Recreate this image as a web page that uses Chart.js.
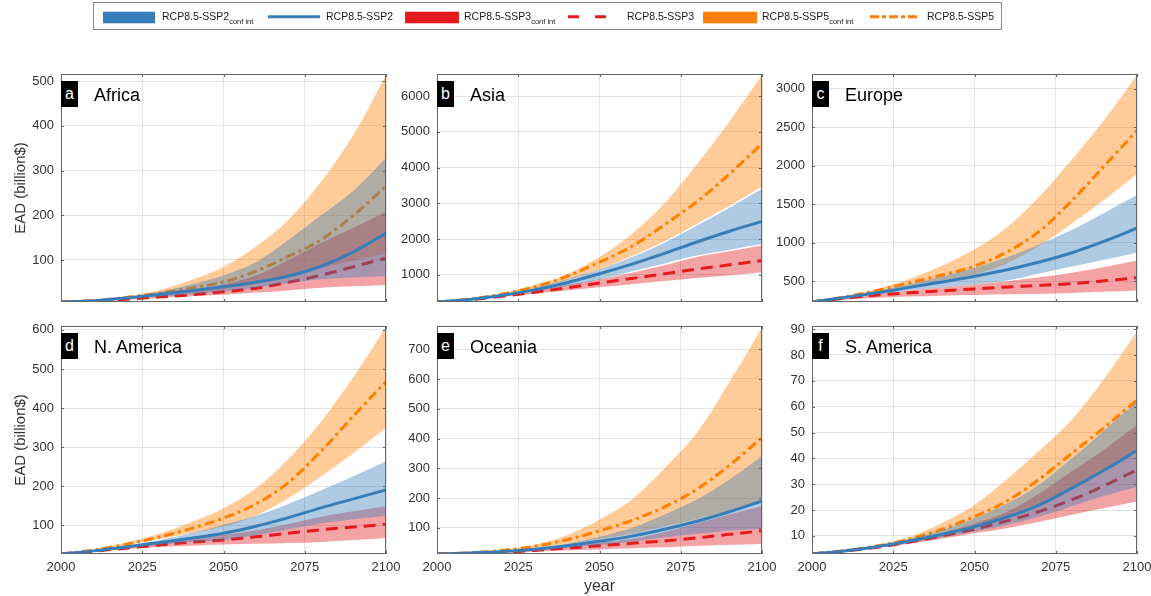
<!DOCTYPE html>
<html>
<head>
<meta charset="utf-8">
<title>Expected annual damage by region</title>
<script src="https://cdn.jsdelivr.net/npm/chart.js@4.4.0/dist/chart.umd.min.js"></script>
<style>
  html, body { margin: 0; padding: 0; background: #fff; width: 1151px; height: 596px; overflow: hidden;
               font-family: "Liberation Sans", Arial, Helvetica, sans-serif; }
  canvas { position: absolute; }
  #legendBox { position: absolute; left: 93px; top: 2px; width: 907px; height: 26px; border: 1px solid #8a8a8a; }
  .sw { position: absolute; top: 3px; }
  .lt { position: absolute; top: 10.6px; font-size: 10.5px; line-height: 1; color: #1a1a1a; white-space: nowrap; }
  .lt sub { font-size: 7.5px; vertical-align: -3.5px; line-height: 1; }
  .tag { position: absolute; width: 17px; height: 26px; background: #000; color: #fff; font-size: 16px;
         display: flex; align-items: center; justify-content: center; line-height: 1; }
  .name { position: absolute; font-size: 18px; line-height: 18px; color: #000; white-space: nowrap; }
</style>
</head>
<body>
<div id="legendBox"></div>
<script>
// ---- data: EAD in billion $, one value per decade ----
const years = [2000, 2010, 2020, 2030, 2040, 2050, 2060, 2070, 2080, 2090, 2100];

const afrSsp2   = [6, 9, 15, 23, 31, 40, 50, 64, 86, 118, 160];
const afrSsp2Lo = [6, 9, 13, 18, 23, 30, 38, 48, 57, 61, 64];
const afrSsp2Hi = [6, 9, 16, 28, 45, 66, 95, 145, 200, 255, 328];
const afrSsp3   = [6, 8, 12, 17, 22, 29, 37, 50, 66, 85, 104];
const afrSsp3Lo = [6, 8, 11, 15, 19, 22, 27, 32, 38, 41, 44];
const afrSsp3Hi = [6, 8, 13, 20, 30, 45, 65, 100, 138, 172, 208];
const afrSsp5   = [6, 9, 16, 26, 37, 51, 75, 108, 145, 200, 265];
const afrSsp5Lo = [6, 9, 14, 20, 27, 35, 47, 62, 82, 98, 115];
const afrSsp5Hi = [6, 10, 18, 32, 55, 85, 130, 190, 275, 380, 514];

const asiSsp2   = [240, 310, 430, 580, 780, 1030, 1300, 1600, 1920, 2220, 2495];
const asiSsp2Lo = [240, 305, 415, 540, 690, 870, 1100, 1320, 1540, 1700, 1860];
const asiSsp2Hi = [240, 315, 450, 640, 880, 1150, 1500, 1900, 2380, 2880, 3410];
const asiSsp3   = [240, 300, 400, 510, 640, 770, 900, 1030, 1160, 1280, 1400];
const asiSsp3Lo = [240, 295, 380, 470, 560, 650, 740, 830, 910, 990, 1075];
const asiSsp3Hi = [240, 305, 420, 560, 720, 880, 1060, 1270, 1500, 1660, 1820];
const asiSsp5   = [240, 320, 460, 660, 960, 1355, 1800, 2400, 3050, 3820, 4673];
const asiSsp5Lo = [240, 315, 440, 620, 850, 1150, 1530, 1940, 2430, 2930, 3470];
const asiSsp5Hi = [240, 325, 480, 720, 1020, 1500, 2150, 3000, 4100, 5300, 6589];

const eurSsp2   = [230, 290, 350, 420, 490, 565, 650, 750, 870, 1020, 1188];
const eurSsp2Lo = [230, 285, 330, 380, 420, 456, 510, 600, 690, 780, 870];
const eurSsp2Hi = [230, 295, 370, 460, 560, 674, 810, 980, 1170, 1390, 1619];
const eurSsp3   = [230, 280, 320, 350, 375, 400, 425, 445, 470, 505, 544];
const eurSsp3Lo = [230, 260, 285, 300, 312, 322, 330, 338, 348, 362, 378];
const eurSsp3Hi = [230, 285, 335, 380, 420, 456, 500, 550, 610, 685, 770];
const eurSsp5   = [230, 295, 380, 480, 580, 696, 880, 1150, 1550, 2000, 2460];
const eurSsp5Lo = [230, 290, 360, 440, 510, 587, 730, 960, 1250, 1560, 1894];
const eurSsp5Hi = [230, 300, 400, 530, 700, 914, 1200, 1600, 2080, 2600, 3178];

const namSsp2   = [27, 35, 45, 56, 67, 80, 98, 120, 145, 168, 191];
const namSsp2Lo = [27, 34, 42, 50, 57, 63, 75, 90, 105, 116, 125];
const namSsp2Hi = [27, 36, 48, 62, 80, 102, 125, 155, 190, 226, 264];
const namSsp3   = [27, 34, 42, 50, 57, 63, 71, 80, 89, 96, 103];
const namSsp3Lo = [27, 33, 40, 45, 48, 51, 53, 55, 58, 63, 68];
const namSsp3Hi = [27, 35, 45, 56, 66, 76, 88, 104, 122, 136, 149];
const namSsp5   = [27, 37, 52, 70, 92, 119, 155, 210, 290, 380, 468];
const namSsp5Lo = [27, 36, 50, 65, 80, 97, 125, 170, 225, 285, 349];
const namSsp5Hi = [27, 38, 55, 78, 108, 144, 195, 270, 365, 480, 608];

const oceSsp2   = [12, 15, 20, 28, 40, 55, 72, 95, 122, 154, 190];
const oceSsp2Lo = [12, 14, 19, 25, 33, 42, 53, 68, 80, 90, 97];
const oceSsp2Hi = [12, 15, 21, 31, 46, 70, 100, 145, 195, 262, 341];
const oceSsp3   = [12, 14, 17, 24, 32, 40, 48, 56, 66, 78, 90];
const oceSsp3Lo = [12, 13, 16, 20, 24, 27, 31, 35, 39, 43, 46];
const oceSsp3Hi = [12, 15, 19, 28, 38, 50, 63, 86, 115, 145, 173];
const oceSsp5   = [12, 16, 24, 38, 60, 90, 125, 170, 230, 310, 403];
const oceSsp5Lo = [12, 15, 22, 32, 45, 62, 80, 105, 130, 158, 185];
const oceSsp5Hi = [12, 16, 25, 42, 75, 128, 195, 300, 420, 590, 773];

const samSsp2   = [3, 4.2, 5.8, 8, 10.6, 13.6, 17.3, 22, 28.5, 35.5, 43];
const samSsp2Lo = [3, 4.1, 5.6, 7.4, 9.5, 11.7, 14.2, 17.5, 21.5, 25.5, 29];
const samSsp2Hi = [3, 4.3, 6.1, 8.8, 12.3, 16.8, 22.5, 30, 40, 51, 62];
const samSsp3   = [3, 4.1, 5.6, 7.6, 10, 12.6, 15.8, 19.5, 24, 29.5, 35.5];
const samSsp3Lo = [3, 4, 5.4, 7, 8.9, 11, 13, 15.5, 18.2, 20.8, 23.3];
const samSsp3Hi = [3, 4.2, 5.9, 8.3, 11.2, 14.8, 19.3, 26.5, 35, 43.5, 53];
const samSsp5   = [3, 4.3, 6.1, 8.8, 12.6, 17.5, 23.5, 32, 42, 52, 62.6];
const samSsp5Lo = [3, 4.2, 5.9, 8.2, 11, 14.3, 18, 22.8, 28.8, 35.5, 43];
const samSsp5Hi = [3, 4.4, 6.4, 9.6, 15, 22, 32, 43, 55, 71, 89];

// ---- panel labels and axis settings ----
const panelLetters = ['a', 'b', 'c', 'd', 'e', 'f'];
const regionNames  = ['Africa', 'Asia', 'Europe', 'N. America', 'Oceania', 'S. America'];
const yMin  = [6, 240, 230, 27, 12, 3];
const yMax  = [516, 6620, 3192, 610, 778, 91.2];
const yTickLabels = [
  [100, 200, 300, 400, 500],
  [1000, 2000, 3000, 4000, 5000, 6000],
  [500, 1000, 1500, 2000, 2500, 3000],
  [100, 200, 300, 400, 500, 600],
  [100, 200, 300, 400, 500, 600, 700],
  [10, 20, 30, 40, 50, 60, 70, 80, 90],
];
const xTickLabels = [2000, 2025, 2050, 2075, 2100];

const regionSeries = [
  [afrSsp2, afrSsp2Lo, afrSsp2Hi, afrSsp3, afrSsp3Lo, afrSsp3Hi, afrSsp5, afrSsp5Lo, afrSsp5Hi],
  [asiSsp2, asiSsp2Lo, asiSsp2Hi, asiSsp3, asiSsp3Lo, asiSsp3Hi, asiSsp5, asiSsp5Lo, asiSsp5Hi],
  [eurSsp2, eurSsp2Lo, eurSsp2Hi, eurSsp3, eurSsp3Lo, eurSsp3Hi, eurSsp5, eurSsp5Lo, eurSsp5Hi],
  [namSsp2, namSsp2Lo, namSsp2Hi, namSsp3, namSsp3Lo, namSsp3Hi, namSsp5, namSsp5Lo, namSsp5Hi],
  [oceSsp2, oceSsp2Lo, oceSsp2Hi, oceSsp3, oceSsp3Lo, oceSsp3Hi, oceSsp5, oceSsp5Lo, oceSsp5Hi],
  [samSsp2, samSsp2Lo, samSsp2Hi, samSsp3, samSsp3Lo, samSsp3Hi, samSsp5, samSsp5Lo, samSsp5Hi],
];

// ---- styling ----
Chart.defaults.font.family = "'Liberation Sans', Arial, Helvetica, sans-serif";
const BLUE = '#377eb8', RED = '#e41a1c', ORANGE = '#ff7f00';
const BLUE_FILL = 'rgba(55,126,184,0.4)';
const RED_FILL = 'rgba(228,26,28,0.4)';
const ORANGE_FILL = 'rgba(255,127,0,0.4)';
const DASH = [12, 7];
const DASH_DOT = [10, 4, 3, 4];
const AXIS_COLOR = '#666';
const GRID_COLOR = '#e2e2e2';
const TEXT_COLOR = '#333';

const pts = arr => years.map((x, i) => ({ x, y: arr[i] }));

// a central line plus a shaded band from its upper to its lower bound
function scenario(mid, lo, hi, color, fill, dash) {
  return [
    { data: pts(mid), borderColor: color, borderWidth: 3, borderDash: dash, fill: false },
    { data: pts(hi), borderColor: 'rgba(0,0,0,0)', borderWidth: 0, backgroundColor: fill, fill: '+1' },
    { data: pts(lo), borderColor: 'rgba(0,0,0,0)', borderWidth: 0, fill: false },
  ];
}

// closed box around the plot area with short inward tick marks
const framePlugin = {
  id: 'frame',
  afterDraw(chart) {
    const { ctx, chartArea: a, scales } = chart;
    ctx.save();
    ctx.strokeStyle = AXIS_COLOR;
    ctx.lineWidth = 1;
    ctx.beginPath();
    scales.y.ticks.forEach(t => {
      const y = Math.round(scales.y.getPixelForValue(t.value)) + 0.5;
      ctx.moveTo(a.left, y); ctx.lineTo(a.left + 3, y);
      ctx.moveTo(a.right, y); ctx.lineTo(a.right - 3, y);
    });
    scales.x.ticks.forEach(t => {
      const x = Math.round(scales.x.getPixelForValue(t.value)) + 0.5;
      ctx.moveTo(x, a.bottom); ctx.lineTo(x, a.bottom - 3);
      ctx.moveTo(x, a.top); ctx.lineTo(x, a.top + 3);
    });
    ctx.stroke();
    ctx.strokeRect(Math.round(a.left) + 0.5, Math.round(a.top) + 0.5,
                   Math.round(a.right - a.left) - 1, Math.round(a.bottom - a.top) - 1);
    ctx.restore();
  }
};

const colLeft = [61, 437, 812];
const rowTop = [74, 326];
const PLOT_W = 325, PLOT_H = 228;

function makePanel(idx) {
  const col = idx % 3, row = Math.floor(idx / 3);
  const plotLeft = colLeft[col], plotTop = rowTop[row];
  const yW = col === 0 ? 61 : 52;
  const padTop = 10, padRight = 20;
  const xH = row === 0 ? 0 : (idx === 4 ? 42 : 24);
  const s = regionSeries[idx];

  const canvas = document.createElement('canvas');
  canvas.width = yW + PLOT_W + padRight;
  canvas.height = padTop + PLOT_H + xH;
  canvas.style.left = (plotLeft - yW) + 'px';
  canvas.style.top = (plotTop - padTop) + 'px';
  document.body.appendChild(canvas);

  const datasets = [
    ...scenario(s[0], s[1], s[2], BLUE, BLUE_FILL, []),
    ...scenario(s[3], s[4], s[5], RED, RED_FILL, DASH),
    ...scenario(s[6], s[7], s[8], ORANGE, ORANGE_FILL, DASH_DOT),
  ];

  new Chart(canvas, {
    type: 'line',
    data: { datasets },
    options: {
      responsive: false,
      animation: false,
      events: [],
      layout: { padding: { left: 0, right: padRight, top: padTop, bottom: 0 } },
      elements: { point: { radius: 0 }, line: { cubicInterpolationMode: 'monotone' } },
      plugins: { legend: { display: false }, tooltip: { enabled: false } },
      scales: {
        x: {
          type: 'linear', min: 2000, max: 2100,
          afterBuildTicks: sc => { sc.ticks = xTickLabels.map(v => ({ value: v })); },
          ticks: { display: row === 1, color: TEXT_COLOR, font: { size: 13 },
                   padding: 6, maxRotation: 0, autoSkip: false, callback: v => String(v) },
          grid: { color: GRID_COLOR, drawTicks: false },
          border: { display: false },
          title: { display: idx === 4, text: 'year', font: { size: 16 }, color: TEXT_COLOR, padding: 0 },
          afterFit: sc => { sc.height = xH; sc.paddingLeft = 0; sc.paddingRight = 0; }
        },
        y: {
          min: yMin[idx], max: yMax[idx],
          afterBuildTicks: sc => { sc.ticks = yTickLabels[idx].map(v => ({ value: v })); },
          ticks: { color: TEXT_COLOR, font: { size: 13 }, padding: 7, autoSkip: false,
                   callback: v => String(v) },
          grid: { color: GRID_COLOR, drawTicks: false },
          border: { display: false },
          title: { display: col === 0, text: 'EAD (billion$)', font: { size: 15 }, color: TEXT_COLOR,
                   padding: { top: 12, bottom: 0 } },
          afterFit: sc => { sc.width = yW; sc.paddingTop = 0; sc.paddingBottom = 0; }
        }
      }
    },
    plugins: [framePlugin]
  });

  const tag = document.createElement('div');
  tag.className = 'tag';
  tag.style.left = plotLeft + 'px';
  tag.style.top = (plotTop + 7) + 'px';
  tag.textContent = panelLetters[idx];
  document.body.appendChild(tag);

  const name = document.createElement('div');
  name.className = 'name';
  name.style.left = (plotLeft + 33) + 'px';
  name.style.top = (plotTop + 12) + 'px';
  name.textContent = regionNames[idx];
  document.body.appendChild(name);
}

for (let i = 0; i < 6; i++) makePanel(i);

// ---- legend row ----
const legendEntries = [
  { kind: 'rect', color: BLUE,   x: 103, w: 52, tx: 162, text: 'RCP8.5-SSP2', sub: 'conf int' },
  { kind: 'line', color: BLUE,   x: 268, w: 52, tx: 326, text: 'RCP8.5-SSP2', dash: '' },
  { kind: 'rect', color: RED,    x: 405, w: 54, tx: 464, text: 'RCP8.5-SSP3', sub: 'conf int' },
  { kind: 'line', color: RED,    x: 568, w: 40, tx: 627, text: 'RCP8.5-SSP3', dash: '11 16' },
  { kind: 'rect', color: ORANGE, x: 703, w: 54, tx: 762, text: 'RCP8.5-SSP5', sub: 'conf int' },
  { kind: 'line', color: ORANGE, x: 870, w: 48, tx: 927, text: 'RCP8.5-SSP5', dash: '9 3 4 3' },
];
const NS = 'http://www.w3.org/2000/svg';
legendEntries.forEach(e => {
  const svg = document.createElementNS(NS, 'svg');
  svg.setAttribute('class', 'sw');
  svg.setAttribute('width', e.w);
  svg.setAttribute('height', 26);
  svg.style.left = e.x + 'px';
  if (e.kind === 'rect') {
    const r = document.createElementNS(NS, 'rect');
    r.setAttribute('x', 0); r.setAttribute('y', 8.7);
    r.setAttribute('width', e.w); r.setAttribute('height', 11.6);
    r.setAttribute('fill', e.color);
    svg.appendChild(r);
  } else {
    const l = document.createElementNS(NS, 'line');
    l.setAttribute('x1', 0); l.setAttribute('x2', e.w);
    l.setAttribute('y1', 13.7); l.setAttribute('y2', 13.7);
    l.setAttribute('stroke', e.color); l.setAttribute('stroke-width', 3);
    if (e.dash) l.setAttribute('stroke-dasharray', e.dash);
    svg.appendChild(l);
  }
  document.body.appendChild(svg);
  const t = document.createElement('div');
  t.className = 'lt';
  t.style.left = e.tx + 'px';
  t.textContent = e.text;
  if (e.sub) {
    const sb = document.createElement('sub');
    sb.textContent = e.sub;
    t.appendChild(sb);
  }
  document.body.appendChild(t);
});
</script>
</body>
</html>
